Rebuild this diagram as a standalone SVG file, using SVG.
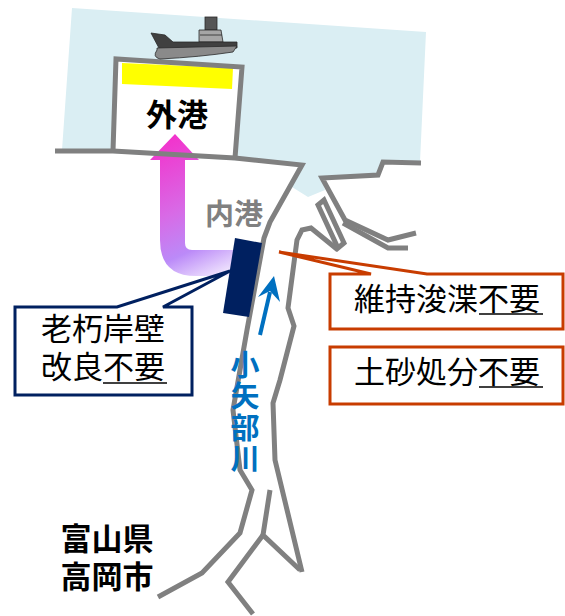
<svg xmlns="http://www.w3.org/2000/svg" width="565" height="616" viewBox="0 0 565 616">
  <defs>
    <linearGradient id="routeGrad" gradientUnits="userSpaceOnUse" x1="175" y1="135" x2="238" y2="278">
      <stop offset="0" stop-color="#f233cc"/>
      <stop offset="0.45" stop-color="#d86ae6"/>
      <stop offset="0.72" stop-color="#bb8af8"/>
      <stop offset="1" stop-color="#ffffff"/>
    </linearGradient>
    <style>
      .shore { fill: none; stroke: #808080; stroke-width: 5; stroke-linejoin: miter; stroke-linecap: butt; }
      .jp { font-family: "Liberation Sans", "Noto Sans CJK JP", "Noto Sans CJK SC", sans-serif; }
      .label { font-size: 31px; fill: #000; }
      .bold { font-weight: bold; }
      .uline { stroke: #000; stroke-width: 1.6; }
      .navyBox { fill: #fff; stroke: #002060; stroke-width: 3; stroke-linejoin: miter; }
      .redBox { fill: #fff; stroke: #c83c00; stroke-width: 3; stroke-linejoin: miter; }
    </style>
  </defs>

  <!-- sea -->
  <polygon id="sea" fill="#daeef3" points="72,8 426,32 420,162 383,162 378,175 322,178 325,190 308,197 292,187 300,164 62,150"/>

  <!-- outer harbour quay block -->
  <g id="outer-port">
    <polygon fill="#fff" points="113,151 116,59 242,67 235,158"/>
    <polygon fill="#ffff00" points="122,63 233,68 232,89 122,84"/>
    <polyline class="shore" points="113,151 116,59 242,67 235,158"/>
    <text class="jp bold" x="177" y="126" text-anchor="middle" font-size="31">外港</text>
  </g>

  <!-- ship -->
  <g id="ship" stroke="#2a2a2a" stroke-width="0.8">
    <rect x="205" y="17" width="12" height="13" fill="#555"/>
    <polygon points="199,30 221,30 223,42 199,42" fill="#a6a6a6"/>
    <line x1="200" y1="35" x2="222" y2="35"/>
    <path d="M151,33 L165,35 L173,42 L237,42 L237,48 L160,50 Z" fill="#404040"/>
    <path d="M157,48 L237,46 L233,52 Q200,57 160,59 Q152,57 157,50 Z" fill="#8a8a8a"/>
  </g>

  <!-- route arrow from inner to outer harbour -->
  <g id="route-arrow">
    <path fill="url(#routeGrad)" d="M150,160 L175,134 L199,160 L185,160 L185,243 Q185,250 192,250 L240,250 L240,276 L196,276 Q160,276 160,240 L160,160 Z"/>
  </g>

  <!-- coastlines and river banks -->
  <g id="connectors">
    <polyline class="shore" points="55,151 113,151 235,158 302,165 270,222 264,238 247,330 233,410 240,470 252,490 240,533 202,573 158,597"/>
    <polyline class="shore" points="421,163 383,162 378,175 322,178 345,220 388,240 416,233"/>
    <polyline class="shore" points="343,223 388,248 408,248"/>
    <polygon class="shore" points="318,205 324,200 344,243 338,248"/>
    <polyline class="shore" points="338,250 311,228 302,230 297,240 288,308 294,326 280,380 273,403 275,460 302,572"/>
    <polyline class="shore" points="270,490 263,535 300,570"/>
    <polyline class="shore" points="263,535 228,582 253,614"/>
  </g>

  <text id="inner-port" class="jp bold" x="234" y="225" text-anchor="middle" font-size="29" fill="#808080">内港</text>

  <!-- callout: old quay wall -->
  <g id="callout-quay">
    <path class="navyBox" d="M15,307 L117,307 L230,271 L163,307 L192,307 L192,395 L15,395 Z"/>
    <text class="jp label" x="103" y="340" text-anchor="middle">老朽岸壁</text>
    <text class="jp label" x="103" y="378" text-anchor="middle">改良不要</text>
    <line class="uline" x1="103" y1="383" x2="167" y2="383"/>
  </g>

  <!-- old quay wall -->
  <g id="quay-wall">
    <polygon fill="#002060" points="235,238 262,243 249,317 223,313"/>
  </g>

  <!-- callout: maintenance dredging -->
  <g id="callout-dredge">
    <path class="redBox" d="M330,274 L371,274 L279,252 L427,274 L563,274 L563,329 L330,329 Z"/>
    <text class="jp label" x="447" y="310" text-anchor="middle">維持浚渫不要</text>
    <line class="uline" x1="479" y1="314" x2="543" y2="314"/>
  </g>

  <!-- callout: sediment disposal -->
  <g id="callout-sediment">
    <rect class="redBox" x="330" y="347" width="233" height="57"/>
    <text class="jp label" x="447" y="383" text-anchor="middle">土砂処分不要</text>
    <line class="uline" x1="479" y1="387" x2="543" y2="387"/>
  </g>

  <!-- river flow -->
  <g id="river-flow" fill="#0070c0">
    <line x1="260" y1="335" x2="270" y2="292" stroke="#0070c0" stroke-width="4"/>
    <polygon points="274,276 258,297 270,291 280,302"/>
    <text class="jp bold" x="242" y="350" font-size="29" letter-spacing="2.5" writing-mode="vertical-rl">小矢部川</text>
  </g>

  <g id="city">
    <text class="jp label bold" x="107" y="550" text-anchor="middle">富山県</text>
    <text class="jp label bold" x="107" y="588" text-anchor="middle">高岡市</text>
  </g>
</svg>
